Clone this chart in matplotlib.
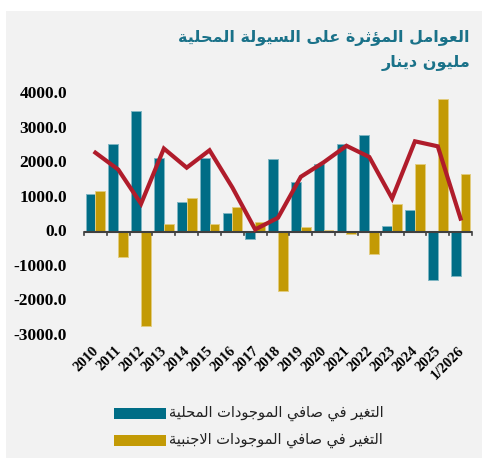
import matplotlib
matplotlib.use("Agg")
import matplotlib.pyplot as plt
import numpy as np
from matplotlib.patches import Rectangle

# ---------------- data ----------------
years = ["2010", "2011", "2012", "2013", "2014", "2015", "2016", "2017", "2018",
         "2019", "2020", "2021", "2022", "2023", "2024", "2025", "1/2026"]
domestic = [1100, 2550, 3535, 2165, 870, 2145, 550, -210, 2115,
            1470, 1990, 2550, 2810, 175, 655, -1380, -1285]
foreign = [1205, -725, -2715, 250, 1005, 230, 725, 290, -1710,
           155, 60, -50, -630, 810, 1970, 3875, 1680]
total = [2310, 1820, 825, 2430, 1875, 2380, 1300, 80, 420,
         1610, 2030, 2510, 2185, 980, 2640, 2495, 395]
yticks = [-3000, -2000, -1000, 0, 1000, 2000, 3000, 4000]

title1 = "العوامل المؤثرة على السيولة المحلية"
title2 = "مليون دينار"
leg1 = "التغير في صافي الموجودات المحلية"
leg2 = "التغير في صافي الموجودات الاجنبية"

# ---------------- simple Arabic shaping ----------------
FORMS = {
    '\u0621': ('\uFE80', None, None, None),
    '\u0622': ('\uFE81', '\uFE82', None, None),
    '\u0623': ('\uFE83', '\uFE84', None, None),
    '\u0624': ('\uFE85', '\uFE86', None, None),
    '\u0625': ('\uFE87', '\uFE88', None, None),
    '\u0626': ('\uFE89', '\uFE8A', '\uFE8B', '\uFE8C'),
    '\u0627': ('\uFE8D', '\uFE8E', None, None),
    '\u0628': ('\uFE8F', '\uFE90', '\uFE91', '\uFE92'),
    '\u0629': ('\uFE93', '\uFE94', None, None),
    '\u062A': ('\uFE95', '\uFE96', '\uFE97', '\uFE98'),
    '\u062B': ('\uFE99', '\uFE9A', '\uFE9B', '\uFE9C'),
    '\u062C': ('\uFE9D', '\uFE9E', '\uFE9F', '\uFEA0'),
    '\u062D': ('\uFEA1', '\uFEA2', '\uFEA3', '\uFEA4'),
    '\u062E': ('\uFEA5', '\uFEA6', '\uFEA7', '\uFEA8'),
    '\u062F': ('\uFEA9', '\uFEAA', None, None),
    '\u0630': ('\uFEAB', '\uFEAC', None, None),
    '\u0631': ('\uFEAD', '\uFEAE', None, None),
    '\u0632': ('\uFEAF', '\uFEB0', None, None),
    '\u0633': ('\uFEB1', '\uFEB2', '\uFEB3', '\uFEB4'),
    '\u0634': ('\uFEB5', '\uFEB6', '\uFEB7', '\uFEB8'),
    '\u0635': ('\uFEB9', '\uFEBA', '\uFEBB', '\uFEBC'),
    '\u0636': ('\uFEBD', '\uFEBE', '\uFEBF', '\uFEC0'),
    '\u0637': ('\uFEC1', '\uFEC2', '\uFEC3', '\uFEC4'),
    '\u0638': ('\uFEC5', '\uFEC6', '\uFEC7', '\uFEC8'),
    '\u0639': ('\uFEC9', '\uFECA', '\uFECB', '\uFECC'),
    '\u063A': ('\uFECD', '\uFECE', '\uFECF', '\uFED0'),
    '\u0641': ('\uFED1', '\uFED2', '\uFED3', '\uFED4'),
    '\u0642': ('\uFED5', '\uFED6', '\uFED7', '\uFED8'),
    '\u0643': ('\uFED9', '\uFEDA', '\uFEDB', '\uFEDC'),
    '\u0644': ('\uFEDD', '\uFEDE', '\uFEDF', '\uFEE0'),
    '\u0645': ('\uFEE1', '\uFEE2', '\uFEE3', '\uFEE4'),
    '\u0646': ('\uFEE5', '\uFEE6', '\uFEE7', '\uFEE8'),
    '\u0647': ('\uFEE9', '\uFEEA', '\uFEEB', '\uFEEC'),
    '\u0648': ('\uFEED', '\uFEEE', None, None),
    '\u0649': ('\uFEEF', '\uFEF0', None, None),
    '\u064A': ('\uFEF1', '\uFEF2', '\uFEF3', '\uFEF4'),
}
LAMALEF = {'\u0627': ('\uFEFB', '\uFEFC'), '\u0623': ('\uFEF7', '\uFEF8'),
           '\u0625': ('\uFEF9', '\uFEFA'), '\u0622': ('\uFEF5', '\uFEF6')}


def dual(c):
    return c in FORMS and FORMS[c][2] is not None


def joining(c):
    return c in FORMS and FORMS[c][1] is not None


def shape(text):
    chars = list(text)
    out = []
    i = 0
    n = len(chars)
    while i < n:
        c = chars[i]
        prev = chars[i - 1] if i > 0 else None
        join_prev = prev is not None and dual(prev) and joining(c)
        if c == '\u0644' and i + 1 < n and chars[i + 1] in LAMALEF:
            iso, fin = LAMALEF[chars[i + 1]]
            out.append(fin if join_prev else iso)
            i += 2
            continue
        if c not in FORMS:
            out.append(c)
            i += 1
            continue
        nxt = chars[i + 1] if i + 1 < n else None
        join_next = nxt is not None and dual(c) and joining(nxt)
        f = FORMS[c]
        if join_prev and join_next:
            out.append(f[3])
        elif join_prev:
            out.append(f[1])
        elif join_next:
            out.append(f[2])
        else:
            out.append(f[0])
        i += 1
    return ''.join(out)[::-1]


# ---------------- figure ----------------
W, H = 482, 459
fig = plt.figure(figsize=(W / 100, H / 100), dpi=100)
fig.patch.set_facecolor("white")
fig.add_artist(Rectangle((6 / W, 1 / H), 1 - 6 / W, (458 - 11) / H,
                         transform=fig.transFigure, facecolor="#F2F2F2",
                         edgecolor="none", zorder=-10))

ax_left, ax_right = 84 / W, 472 / W
ax_top, ax_bot = 94.5 / H, 335.5 / H
ax = fig.add_axes([ax_left, 1 - ax_bot, ax_right - ax_left, ax_bot - ax_top])
ax.set_facecolor("none")

blue = "#006D86"
gold = "#C39A05"
red = "#B01C2B"

x = np.arange(len(years))
bw = 0.43
ax.bar(x - bw / 2, domestic, width=bw, color=blue, edgecolor="#7FB6C3",
       linewidth=0.7, zorder=2)
ax.bar(x + bw / 2, foreign, width=bw, color=gold, edgecolor="#E2CC7F",
       linewidth=0.7, zorder=2)
ax.plot(x, total, color=red, linewidth=3.0, zorder=4, solid_joinstyle="miter")

ax.set_xlim(-0.5, len(years) - 0.5)
ax.set_ylim(-3000, 4000)
ax.axhline(0, color="#404040", linewidth=1.5, zorder=3)

for s in ax.spines.values():
    s.set_visible(False)

ax.set_yticks([])
ax.set_xticks([])
# y labels placed explicitly, right edge at ~67 px
lab_x = (67 - 84) / (472 - 84)
for v in yticks:
    ax.text(lab_x, v, f"{v:.1f}", transform=ax.get_yaxis_transform(),
            ha="right", va="center", fontfamily="Liberation Serif",
            fontweight="bold", fontsize=12.5, clip_on=False)

# boundary tick marks on the zero line
for b in np.arange(len(years) + 1) - 0.5:
    ax.plot([b, b], [0, -90], color="#404040", linewidth=1.2, zorder=3,
            clip_on=False)
# rotated category labels
for i, lab in enumerate(years):
    ax.annotate(lab, xy=(i, 0), xycoords=("data", "axes fraction"),
                xytext=(-2.5, -6), textcoords="offset points",
                rotation=45, ha="right", va="top", rotation_mode="anchor",
                fontfamily="Liberation Serif", fontweight="bold", fontsize=10.5)

# title
fig.text(470 / W, 1 - 38 / H, shape(title1), ha="right", va="center",
         fontsize=11.5, fontweight="bold", color="#1A7289",
         fontfamily="DejaVu Sans")
fig.text(470 / W, 1 - 63 / H, shape(title2), ha="right", va="center",
         fontsize=11.5, fontweight="bold", color="#1A7289",
         fontfamily="DejaVu Sans")

# legend
for yy, col, txt in [(413, blue, leg1), (440, gold, leg2)]:
    fig.add_artist(Rectangle((114 / W, 1 - (yy + 5.5) / H), 52 / W, 11 / H,
                             transform=fig.transFigure, facecolor=col,
                             edgecolor="none"))
    fig.text(169 / W, 1 - yy / H, shape(txt), ha="left", va="center",
             fontsize=10.5, color="#222222", fontfamily="DejaVu Sans")

fig.savefig("out.png", dpi=100, facecolor=fig.get_facecolor())
